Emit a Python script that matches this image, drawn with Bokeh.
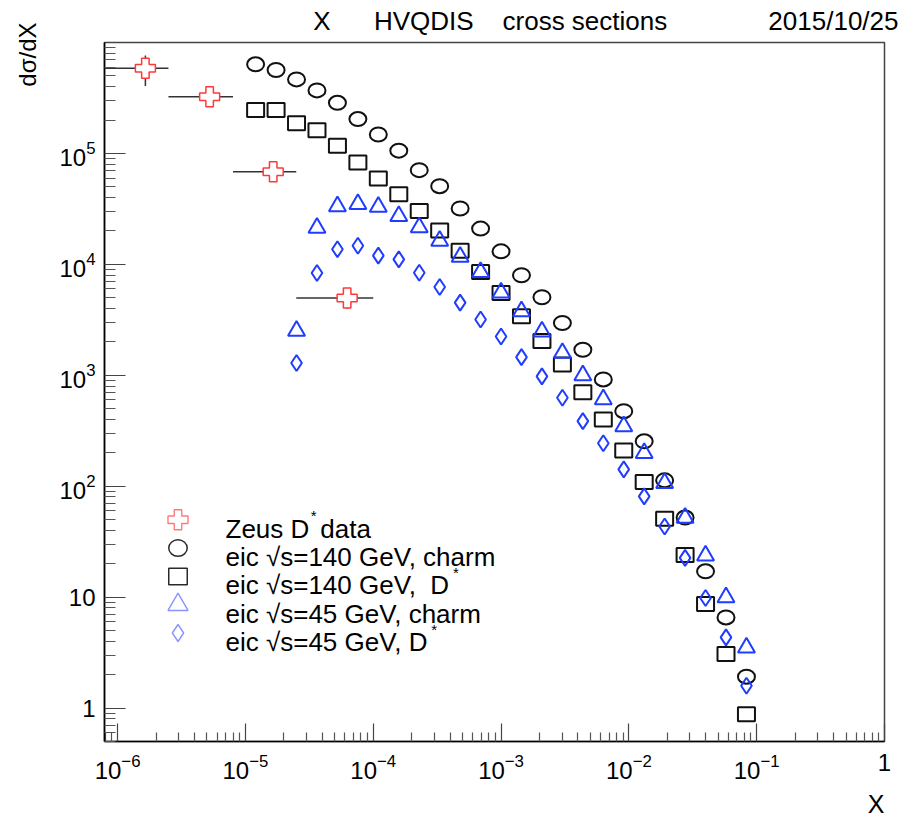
import math

from bokeh.plotting import figure
from bokeh.models import (Range1d, FixedTicker, LogTickFormatter, Label, Title,
                          ColumnDataSource)
from bokeh.embed import file_html
from bokeh.resources import INLINE

# ---------------------------------------------------------------- data
# log-spaced bin centres in X (25 bins between 1e-5 and 1e-1)
x_bins = [1.202e-5, 1.738e-5, 2.512e-5, 3.631e-5, 5.248e-5, 7.586e-5,
          1.096e-4, 1.585e-4, 2.291e-4, 3.311e-4, 4.786e-4, 6.918e-4,
          1.000e-3, 1.445e-3, 2.089e-3, 3.020e-3, 4.365e-3, 6.310e-3,
          9.120e-3, 1.318e-2, 1.905e-2, 2.754e-2, 3.981e-2, 5.754e-2,
          8.318e-2]

# eic sqrt(s)=140 GeV
charm_140 = [6.36e5, 5.65e5, 4.65e5, 3.70e5, 2.86e5, 2.04e5, 1.48e5, 1.06e5,
             7.07e4, 5.07e4, 3.19e4, 2.10e4, 1.31e4, 7.98e3, 5.05e3, 2.96e3,
             1.70e3, 918.0, 475.0, 254.0, 113.0, 52.2, 17.1, 6.57, 1.92]
dstar_140 = [2.46e5, 2.46e5, 1.87e5, 1.62e5, 1.17e5, 8.30e4, 5.95e4, 4.29e4,
             3.03e4, 2.02e4, 1.33e4, 8.54e3, 5.52e3, 3.40e3, 2.04e3, 1.25e3,
             705.0, 400.0, 210.0, 109.0, 50.8, 24.0, 8.68, 3.07, 0.88]

# eic sqrt(s)=45 GeV (kinematically starts at the third bin)
x_bins_45 = x_bins[2:]
charm_45 = [2.52e3, 2.13e4, 3.34e4, 3.49e4, 3.30e4, 2.72e4, 2.16e4, 1.63e4,
            1.17e4, 8.54e3, 5.56e3, 3.78e3, 2.48e3, 1.59e3, 998.0, 606.0,
            346.0, 199.0, 107.0, 51.9, 23.7, 9.96, 3.52]
dstar_45 = [1.29e3, 8.36e3, 1.37e4, 1.47e4, 1.20e4, 1.11e4, 8.40e3, 6.25e3,
            4.52e3, 3.18e3, 2.24e3, 1.46e3, 977.0, 628.0, 386.0, 244.0,
            142.0, 81.1, 43.3, 22.6, 9.84, 4.34, 1.59]

# ZEUS D* measurement: bin edges, bin centre, value, error
zeus_lo = [8.0e-7, 2.5e-6, 8.0e-6, 2.5e-5]
zeus_hi = [2.5e-6, 8.0e-6, 2.5e-5, 1.0e-4]
zeus_x = [1.65e-6, 5.25e-6, 1.65e-5, 6.25e-5]
zeus_y = [5.85e5, 3.24e5, 6.82e4, 4.98e3]
zeus_err = [1.8e5, 2.5e4, 5.0e3, 1.0e3]

# axis ticks
x_ticks = [1e-6, 1e-5, 1e-4, 1e-3, 1e-2, 1e-1, 1.0]
y_ticks = [1.0, 10.0, 1e2, 1e3, 1e4, 1e5]

NB = "\u00a0"
title_text = ("X" + NB * 6 + "HVQDIS" + NB * 4 + "cross" + NB + "sections"
              + NB * 14 + "2015/10/25")
legend_labels = [("Zeus D", "*", " data"),
                 ("eic \u221as=140 GeV, charm", "", ""),
                 ("eic \u221as=140 GeV," + NB + " D", "*", ""),
                 ("eic \u221as=45 GeV, charm", "", ""),
                 ("eic \u221as=45 GeV, D", "*", "")]

# ---------------------------------------------------------------- layout
W, H = 902, 826
LEFT, RIGHT, TOP, BOTTOM = 104, 884, 42, 741
X_MIN, X_MAX = 7.9e-7, 1.0
Y_MIN, Y_MAX = 0.5, 1.0e6
FONT = "Liberation Sans"

BLACK = "#111111"
BLUE = "#1f3cff"
RED = "#ff3838"

p = figure(width=W, height=H, x_axis_type="log", y_axis_type="log",
           x_range=Range1d(X_MIN, X_MAX), y_range=Range1d(Y_MIN, Y_MAX),
           output_backend="svg", toolbar_location=None,
           min_border_left=LEFT, min_border_right=W - RIGHT,
           min_border_top=TOP, min_border_bottom=H - BOTTOM)
p.xgrid.visible = False
p.ygrid.visible = False
p.outline_line_color = "#444444"
p.outline_line_width = 1.5
p.background_fill_color = "white"
p.border_fill_color = "white"


def decade_minors(lo, hi):
    out = []
    for e in range(int(math.floor(math.log10(lo))), int(math.ceil(math.log10(hi))) + 1):
        for m in range(2, 10):
            v = m * 10.0 ** e
            if lo <= v <= hi:
                out.append(v)
    return out


p.xaxis.ticker = FixedTicker(ticks=x_ticks, minor_ticks=decade_minors(X_MIN, X_MAX))
p.yaxis.ticker = FixedTicker(ticks=y_ticks, minor_ticks=decade_minors(Y_MIN, Y_MAX))
p.xaxis.formatter = LogTickFormatter()
p.yaxis.formatter = LogTickFormatter(min_exponent=1)
p.xaxis.major_label_overrides = {1.0: "1"}
p.yaxis.major_label_overrides = {1.0: "1", 10.0: "10"}
for ax in (p.xaxis[0], p.yaxis[0]):
    ax.axis_line_color = "black"
    ax.axis_line_width = 1.6
    ax.major_tick_out = 0
    ax.minor_tick_out = 0
    ax.major_tick_line_color = "#444444"
    ax.minor_tick_line_color = "#555555"
    ax.major_tick_line_width = 1.2
    ax.minor_tick_line_width = 1.2
    ax.major_label_text_font = FONT
    ax.major_label_text_font_size = "24px"
    ax.major_label_text_color = "black"
p.xaxis.major_tick_in = 18
p.xaxis.minor_tick_in = 9
p.yaxis.major_tick_in = 21
p.yaxis.minor_tick_in = 11
p.xaxis.major_label_standoff = 12
p.yaxis.major_label_standoff = 9

# titles: top line, x name (bottom right), y name (top left)
p.add_layout(Title(text=title_text, align="right", offset=-14, standoff=9,
                   vertical_align="top",
                   text_font=FONT, text_font_size="26px",
                   text_font_style="normal", text_color="black"), "above")
p.add_layout(Title(text="X", align="right", offset=0, standoff=13,
                   text_font=FONT, text_font_size="25px",
                   text_font_style="normal", text_color="black"), "below")
p.add_layout(Title(text="d\u03c3/dX", align="right", offset=-20, standoff=27,
                   vertical_align="top",
                   text_font=FONT, text_font_size="24px",
                   text_font_style="normal", text_color="black"), "left")

# ---------------------------------------------------------------- series
src140 = ColumnDataSource(dict(x=x_bins, charm=charm_140, dstar=dstar_140))
src45 = ColumnDataSource(dict(x=x_bins_45, charm=charm_45, dstar=dstar_45))

p.ellipse(x="x", y="charm", width=17, height=14, width_units="screen",
          height_units="screen", source=src140, fill_color=None,
          line_color=BLACK, line_width=2)
p.rect(x="x", y="dstar", width=17, height=14, width_units="screen",
       height_units="screen", source=src140, fill_color=None,
       line_color=BLACK, line_width=2)
p.scatter(x="x", y="charm", marker="triangle", size=17, source=src45,
          fill_color=None, line_color=BLUE, line_width=2)
p.scatter(x="x", y="dstar", marker="diamond", size=16, source=src45,
          fill_color=None, line_color=BLUE, line_width=2)

# ZEUS points with error bars
p.segment(x0=zeus_lo, y0=zeus_y, x1=zeus_hi, y1=zeus_y,
          line_color="#333333", line_width=1.5)
p.segment(x0=zeus_x, y0=[y - e for y, e in zip(zeus_y, zeus_err)],
          x1=zeus_x, y1=[y + e for y, e in zip(zeus_y, zeus_err)],
          line_color="#333333", line_width=1.5)
p.scatter(x=zeus_x, y=zeus_y, marker="plus", size=20, fill_color="white",
          line_color=RED, line_width=1.5)


# ---------------------------------------------------------------- legend
def canvas_label(text, cx, cy, size, align="left", color="black"):
    p.add_layout(Label(x=cx - LEFT, y=BOTTOM - cy, x_units="screen",
                       y_units="screen", text=text, text_font=FONT,
                       text_font_size=f"{size}px", text_align=align,
                       text_baseline="alphabetic", text_color=color))


def canvas_to_data(cx, cy):
    lx0, lx1 = math.log10(X_MIN), math.log10(X_MAX)
    ly0, ly1 = math.log10(Y_MIN), math.log10(Y_MAX)
    fx = (cx - LEFT) / (RIGHT - LEFT)
    fy = (BOTTOM - cy) / (BOTTOM - TOP)
    return 10 ** (lx0 + fx * (lx1 - lx0)), 10 ** (ly0 + fy * (ly1 - ly0))


ROW0, ROW_STEP = 519.3, 28.3
SW_X = 177.5
TXT_X = 225
TXT_SIZE = 26
# Liberation Sans advance widths (per em) for the characters before a superscript
ADV = {"Z": 0.611, "e": 0.556, "u": 0.556, "s": 0.5, " ": 0.278, NB: 0.278,
       "D": 0.722, "i": 0.222, "c": 0.5, "\u221a": 0.549, "=": 0.584,
       "1": 0.556, "4": 0.556, "0": 0.556, "5": 0.556, "G": 0.778,
       "V": 0.667, ",": 0.278}


def text_width(s, size):
    return sum(ADV.get(ch, 0.556) for ch in s) * size


rows = [canvas_to_data(SW_X, ROW0 + k * ROW_STEP) for k in range(5)]

p.scatter(x=[rows[0][0]], y=[rows[0][1]], marker="plus", size=20,
          fill_color="white", line_color="#ff7b7b", line_width=1.4)
p.ellipse(x=[rows[1][0]], y=[rows[1][1]], width=18.5, height=16.5,
          width_units="screen", height_units="screen", fill_color=None,
          line_color="#2a2a2a", line_width=1.5)
p.rect(x=[rows[2][0]], y=[rows[2][1]], width=18.5, height=16.5,
       width_units="screen", height_units="screen", fill_color=None,
       line_color="#2a2a2a", line_width=1.5)
p.scatter(x=[rows[3][0]], y=[rows[3][1]], marker="triangle", size=20,
          fill_color=None, line_color="#8a94ff", line_width=1.4)
p.scatter(x=[rows[4][0]], y=[rows[4][1]], marker="diamond", size=17,
          fill_color=None, line_color="#8a94ff", line_width=1.4)

for k, (main, sup, tail) in enumerate(legend_labels):
    base_y = ROW0 + k * ROW_STEP + 9.0
    canvas_label(main, TXT_X, base_y, TXT_SIZE)
    if sup:
        sx = TXT_X + text_width(main, TXT_SIZE) + 1.5
        canvas_label(sup, sx, base_y - 13, 15)
        if tail:
            canvas_label(tail, sx + 9.5, base_y, TXT_SIZE)

with open("out.html", "w", encoding="utf-8") as fh:
    fh.write(file_html(p, INLINE))
